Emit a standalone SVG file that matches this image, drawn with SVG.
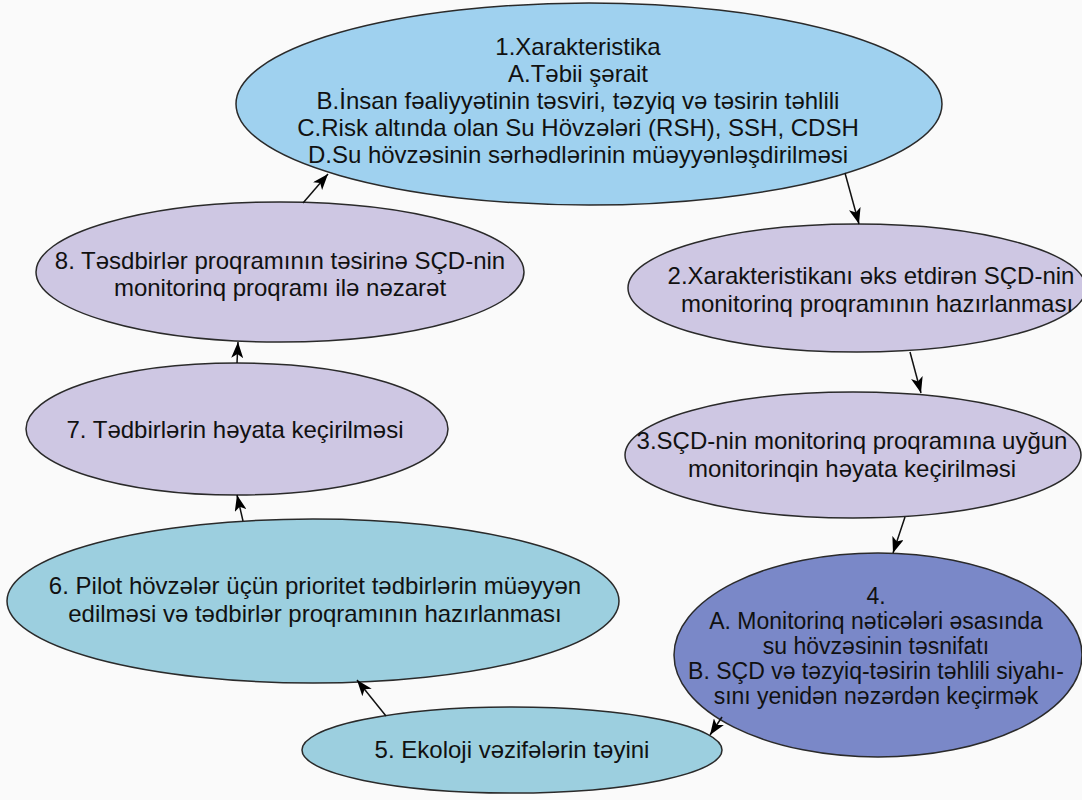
<svg xmlns="http://www.w3.org/2000/svg" width="1082" height="800" viewBox="0 0 1082 800">
<style>
.n{stroke:#2a2a2a;stroke-width:1.5}
.sky{fill:#9fd1ef}
.lav{fill:#cec7e3}
.teal{fill:#9ccfdf}
.blue{fill:#7a88c8}
text{font-family:"Liberation Sans",Arial,sans-serif;fill:#111;text-anchor:middle;font-size:24px}
.s{font-size:23px}
.c{stroke:#111;stroke-width:1.5;fill:none;marker-end:url(#ah)}
</style>
<defs>
<marker id="ah" viewBox="0 0 16 12" refX="16" refY="6" markerWidth="16" markerHeight="12" markerUnits="userSpaceOnUse" orient="auto">
<path d="M0,0 L16,6 L0,12 L4,6 Z" fill="#000"/>
</marker>
</defs>
<rect width="1082" height="800" fill="#fafafa"/>
<g id="n1">
<ellipse class="n sky" cx="589" cy="104" rx="353" ry="101"/>
<text x="578" y="55">1.Xarakteristika</text>
<text x="578" y="82">A.Təbii şərait</text>
<text x="578" y="109">B.İnsan fəaliyyətinin təsviri, təzyiq və təsirin təhlili</text>
<text x="578" y="136">C.Risk altında olan Su Hövzələri (RSH), SSH, CDSH</text>
<text x="578" y="163">D.Su hövzəsinin sərhədlərinin müəyyənləşdirilməsi</text>
</g>
<g id="n2">
<ellipse class="n lav" cx="857" cy="288" rx="229" ry="64"/>
<text x="871" y="284">2.Xarakteristikanı əks etdirən SÇD-nin</text>
<text x="877" y="312">monitorinq proqramının hazırlanması</text>
</g>
<g id="n3">
<ellipse class="n lav" cx="853" cy="455" rx="228" ry="63"/>
<text x="852" y="449">3.SÇD-nin monitorinq proqramına uyğun</text>
<text x="852" y="477">monitorinqin həyata keçirilməsi</text>
</g>
<g id="n4">
<ellipse class="n blue" cx="878" cy="655" rx="204" ry="102"/>
<text class="s" x="876" y="604">4.</text>
<text class="s" x="876" y="629">A. Monitorinq nəticələri əsasında</text>
<text class="s" x="876" y="654">su hövzəsinin təsnifatı</text>
<text class="s" x="876" y="679">B. SÇD və təzyiq-təsirin təhlili siyahı-</text>
<text class="s" x="876" y="704">sını yenidən nəzərdən keçirmək</text>
</g>
<g id="n5">
<ellipse class="n teal" cx="512" cy="750" rx="210" ry="43"/>
<text x="512" y="758">5. Ekoloji vəzifələrin təyini</text>
</g>
<g id="n6">
<ellipse class="n teal" cx="313" cy="601" rx="306" ry="82"/>
<text x="315" y="594">6. Pilot hövzələr üçün prioritet tədbirlərin müəyyən</text>
<text x="315" y="622">edilməsi və tədbirlər proqramının hazırlanması</text>
</g>
<g id="n7">
<ellipse class="n lav" cx="237" cy="429" rx="211" ry="66"/>
<text x="235" y="438">7. Tədbirlərin həyata keçirilməsi</text>
</g>
<g id="n8">
<ellipse class="n lav" cx="280" cy="272" rx="244" ry="70"/>
<text x="280" y="269">8. Təsdbirlər proqramının təsirinə SÇD-nin</text>
<text x="280" y="296">monitorinq proqramı ilə nəzarət</text>
</g>
<g id="connectors">
<line class="c" x1="845" y1="173" x2="859" y2="224"/>
<line class="c" x1="910" y1="352" x2="921" y2="393"/>
<line class="c" x1="905" y1="517" x2="893" y2="553"/>
<line class="c" x1="722" y1="717" x2="710" y2="735"/>
<line class="c" x1="386" y1="716" x2="357" y2="680"/>
<line class="c" x1="243" y1="521" x2="237" y2="495"/>
<line class="c" x1="237" y1="363" x2="238" y2="342"/>
<line class="c" x1="303" y1="203" x2="328" y2="174"/>
</g>
</svg>
